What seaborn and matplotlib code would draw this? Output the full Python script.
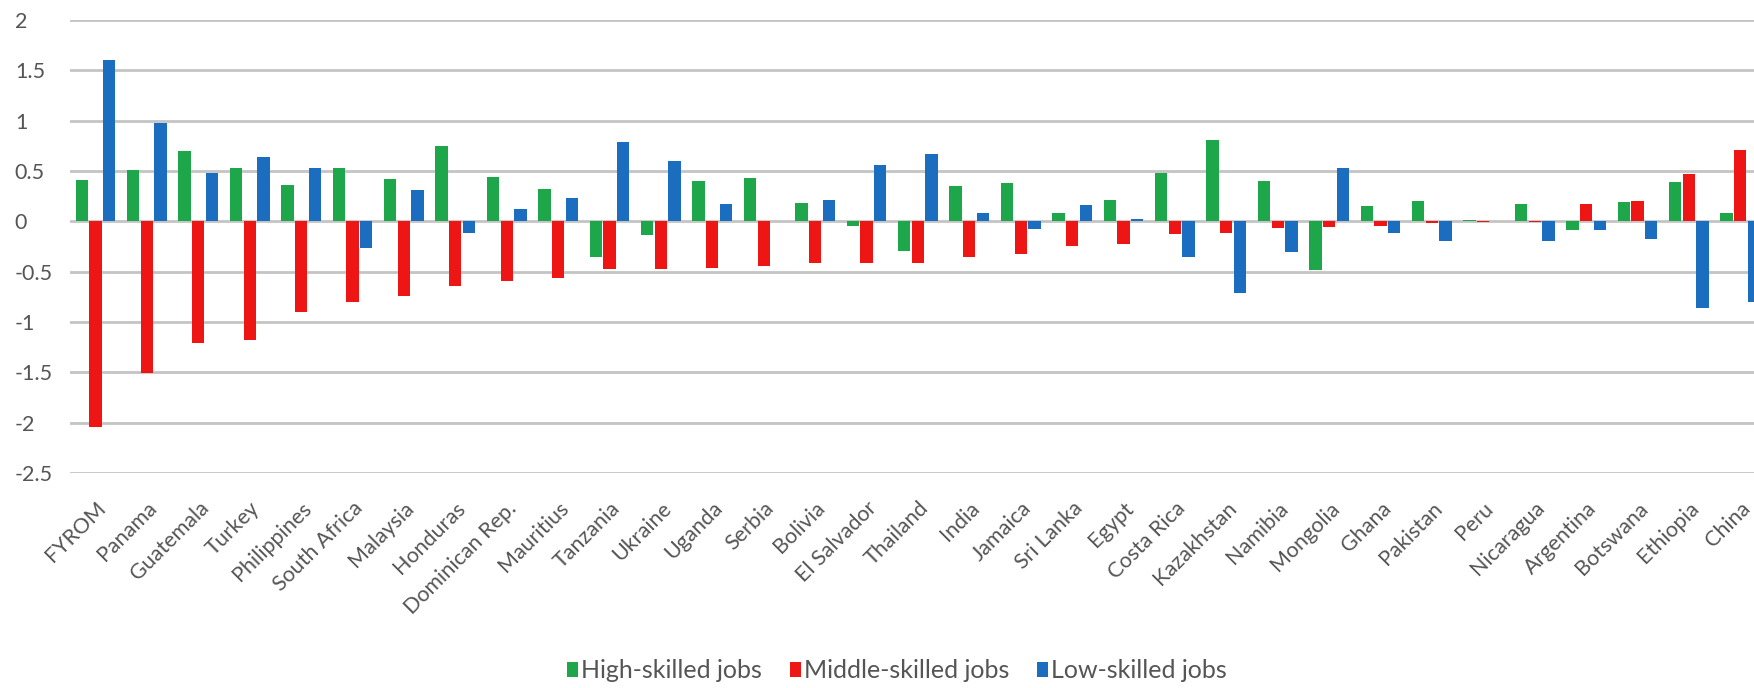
import matplotlib
matplotlib.use("Agg")
import matplotlib.pyplot as plt
import seaborn as sns
import pandas as pd
from matplotlib.patches import Patch

countries = ["FYROM", "Panama", "Guatemala", "Turkey", "Philippines", "South Africa",
             "Malaysia", "Honduras", "Dominican Rep.", "Mauritius", "Tanzania", "Ukraine",
             "Uganda", "Serbia", "Bolivia", "El Salvador", "Thailand", "India", "Jamaica",
             "Sri Lanka", "Egypt", "Costa Rica", "Kazakhstan", "Namibia", "Mongolia",
             "Ghana", "Pakistan", "Peru", "Nicaragua", "Argentina", "Botswana",
             "Ethiopia", "China"]

high = [0.41, 0.51, 0.70, 0.53, 0.36, 0.53, 0.42, 0.75, 0.44, 0.32, -0.35, -0.14,
        0.40, 0.43, 0.18, -0.05, -0.29, 0.35, 0.38, 0.08, 0.21, 0.48, 0.81, 0.40,
        -0.48, 0.15, 0.20, 0.01, 0.17, -0.09, 0.19, 0.39, 0.08]
middle = [-2.04, -1.51, -1.21, -1.18, -0.90, -0.80, -0.74, -0.64, -0.59, -0.56, -0.47, -0.47,
          -0.46, -0.44, -0.41, -0.41, -0.41, -0.35, -0.32, -0.25, -0.23, -0.13, -0.12, -0.07,
          -0.06, -0.05, -0.02, -0.01, -0.01, 0.17, 0.20, 0.47, 0.71]
low = [1.60, 0.98, 0.48, 0.64, 0.53, -0.26, 0.31, -0.12, 0.12, 0.23, 0.79, 0.60,
       0.17, 0.00, 0.21, 0.56, 0.67, 0.08, -0.08, 0.16, 0.02, -0.35, -0.71, -0.30,
       0.53, -0.12, -0.20, 0.00, -0.20, -0.09, -0.18, -0.86, -0.80]

series_names = ["High-skilled jobs", "Middle-skilled jobs", "Low-skilled jobs"]
colors = ["#1ea64b", "#ee1515", "#1b6ebf"]
yticks = [-2.5, -2, -1.5, -1, -0.5, 0, 0.5, 1, 1.5, 2]
ytick_labels = ["-2.5", "-2", "-1.5", "-1", "-0.5", "0", "0.5", "1", "1.5", "2"]

df = pd.DataFrame({
    "country": countries * 3,
    "value": high + middle + low,
    "series": [series_names[0]] * len(countries) + [series_names[1]] * len(countries)
              + [series_names[2]] * len(countries),
})

sns.set_theme(style="white")
plt.rcParams["font.family"] = ["Lato", "DejaVu Sans"]
text_color = "#555555"

W, H = 1754, 688
fig = plt.figure(figsize=(W / 100, H / 100), dpi=100)
ncat = len(countries)
left_px, top_px, bottom_px = 69.8, 20, 473
cat_w = 51.4
right_px = left_px + cat_w * ncat
ax = fig.add_axes([left_px / W, (H - bottom_px) / H, (right_px - left_px) / W,
                   (bottom_px - top_px) / H])

sns.barplot(data=df, x="country", y="value", hue="series", order=countries,
            hue_order=series_names, palette=colors, width=0.8, gap=0.1,
            linewidth=0, saturation=1, legend=False, ax=ax)

ax.set_ylim(-2.5, 2)
ax.set_xlim(-0.5, ncat - 0.5)
ax.set_yticks(yticks)
ax.set_yticklabels(ytick_labels, ha="left", color=text_color, fontsize=15.5)
ax.tick_params(axis="y", length=0, pad=39.6)
ax.set_xticks(range(ncat))
ax.set_xticklabels(countries, rotation=45, ha="right", rotation_mode="anchor",
                   color=text_color, fontsize=15.5)
ax.tick_params(axis="x", length=0, pad=18)
ax.set_xlabel("")
ax.set_ylabel("")
for s in ax.spines.values():
    s.set_visible(False)
ax.yaxis.grid(True, color="#c4c4c4", linewidth=2)
ax.set_axisbelow(True)

handles = [Patch(facecolor=c, edgecolor="none") for c in colors]
fig.legend(handles, series_names, loc="center", bbox_to_anchor=(897 / W, 1 - 671 / H),
           ncol=3, frameon=False, fontsize=18, handlelength=0.45, handleheight=0.55,
           handletextpad=0.12, columnspacing=1.1, labelcolor=text_color)

fig.savefig("out.png", dpi=100)
